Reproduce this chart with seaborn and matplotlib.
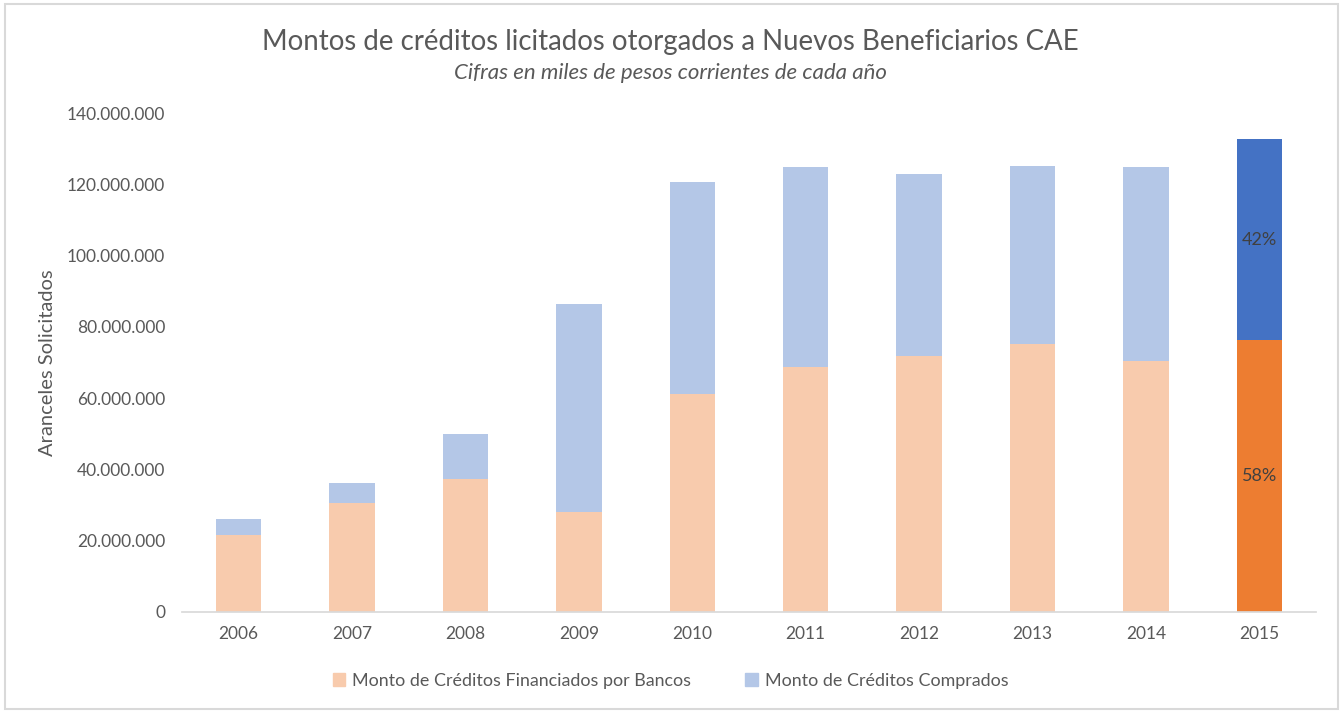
import matplotlib
matplotlib.use("Agg")
import matplotlib.pyplot as plt
import matplotlib.patches as mpatches
import matplotlib.ticker as mticker
import pandas as pd
import seaborn as sns

# values in millions of (thousand) pesos
years = ["2006", "2007", "2008", "2009", "2010", "2011", "2012", "2013", "2014", "2015"]
financiados = [21.5, 30.5, 37.4, 28.1, 61.1, 68.7, 71.9, 75.1, 70.5, 76.3]
comprados = [4.7, 5.8, 12.5, 58.2, 59.6, 56.1, 51.0, 50.0, 54.3, 56.3]
pct_2015 = ["58%", "42%"]

LABEL_FIN = "Monto de Créditos Financiados por Bancos"
LABEL_COMP = "Monto de Créditos Comprados"

sns.set_theme(style="white")
plt.rcParams["font.family"] = ["Lato", "DejaVu Sans"]
TXT = "#595959"

df = pd.DataFrame({
    "year": years,
    "fin": [v * 1e6 for v in financiados],
    "comp": [v * 1e6 for v in comprados],
})
df["total"] = df["fin"] + df["comp"]

pal_comp = ["#B4C7E7"] * 9 + ["#4472C4"]
pal_fin = ["#F8CBAD"] * 9 + ["#ED7D31"]

fig = plt.figure(figsize=(13.41, 7.11), dpi=100)
ax = fig.add_axes([182 / 1341, 1 - 612 / 711, (1316 - 182) / 1341, (612 - 113) / 711])

sns.barplot(data=df, x="year", y="total", hue="year", palette=pal_comp,
            width=0.4, legend=False, ax=ax, saturation=1, linewidth=0)
sns.barplot(data=df, x="year", y="fin", hue="year", palette=pal_fin,
            width=0.4, legend=False, ax=ax, saturation=1, linewidth=0)

# percentage labels on the 2015 bar
last = df.iloc[-1]
ax.text(9, last["fin"] / 2, pct_2015[0], ha="center", va="center", fontsize=13, color="#404040")
ax.text(9, last["fin"] + last["comp"] / 2, pct_2015[1], ha="center", va="center", fontsize=13, color="#404040")

ax.set_ylim(0, 140e6)
ax.set_xlim(-0.5, 9.5)
ax.yaxis.set_major_locator(mticker.MultipleLocator(20e6))
ax.yaxis.set_major_formatter(mticker.FuncFormatter(lambda v, p: f"{int(v):,}".replace(",", ".")))
ax.tick_params(axis="both", length=0, labelsize=12.5, colors=TXT)
ax.tick_params(axis="y", pad=12)
ax.tick_params(axis="x", pad=10)
for s in ["top", "right", "left"]:
    ax.spines[s].set_visible(False)
ax.spines["bottom"].set_color("#D9D9D9")
ax.set_xlabel("")
ax.set_ylabel("Aranceles Solicitados", fontsize=14.5, color=TXT)
ax.yaxis.set_label_coords((56 - 182) / (1316 - 182), 0.5)

fig.text(0.5, 1 - 42 / 711, "Montos de créditos licitados otorgados a Nuevos Beneficiarios CAE",
         ha="center", va="center", fontsize=19.9, color=TXT)
fig.text(0.5, 1 - 73 / 711, "Cifras en miles de pesos corrientes de cada año",
         ha="center", va="center", fontsize=16, color=TXT, style="italic")

handles = [mpatches.Patch(color="#F8CBAD", label=LABEL_FIN),
           mpatches.Patch(color="#B4C7E7", label=LABEL_COMP)]
fig.legend(handles=handles, loc="center", bbox_to_anchor=(0.5, 1 - 681 / 711), ncol=2,
           frameon=False, fontsize=12.9, labelcolor=TXT, handlelength=0.7, handleheight=0.7,
           columnspacing=3, handletextpad=0.4)

fig.patches.append(mpatches.Rectangle((5 / 1341, 2 / 711), 1 - 8 / 1341, 1 - 6 / 711,
                                      transform=fig.transFigure, fill=False,
                                      edgecolor="#D9D9D9", linewidth=1.5))

fig.savefig("out.png", dpi=100)
